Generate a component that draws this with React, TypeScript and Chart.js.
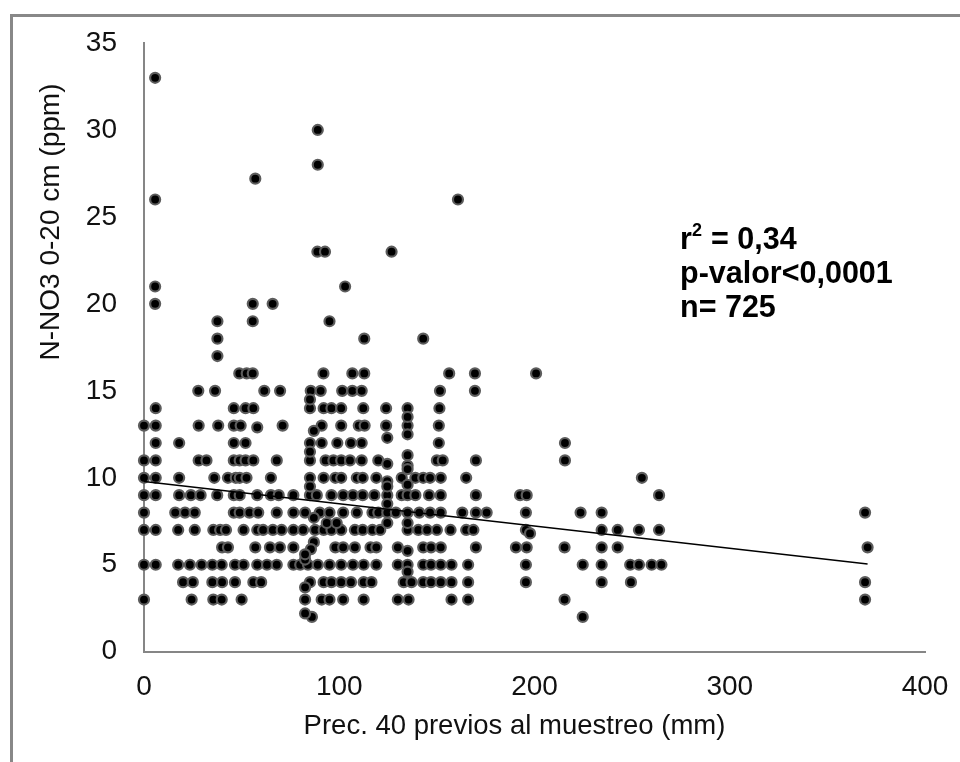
import React, { useEffect, useRef } from "react";
import { Chart, registerables } from "chart.js";

Chart.register(...registerables);

// x positions (mm) of the points sitting on each integer N-NO3 row (ppm)
const row16 = [48.8, 52.6, 55.7, 91.9, 106.7, 112.8, 156.3, 169.5, 200.8];
const row15 = [27.8, 36.4, 61.6, 69.7, 85.4, 90.5, 101.5, 106.7, 111.5, 151.6, 169.5];
const row14 = [6, 46, 52, 56, 85, 92, 96, 101, 112.3, 124, 135, 151.3];
const row13 = [0, 6, 28, 38, 46, 49.5, 71, 91, 101, 110, 113, 124, 135, 151];
const row12 = [6, 18, 46, 52, 85, 91, 99, 106, 111.5, 151, 215.6];
const row11 = [0, 6, 28, 32, 46, 49, 52, 56, 68, 85, 93, 97, 101, 105.5, 111.5, 120, 150, 153, 170, 215.6];
const row10 = [0, 6, 18, 36, 43, 47, 49, 52.5, 65, 85, 92, 98, 101, 109, 112, 119, 132, 139, 143, 146.5, 152, 165, 255];
const row9 = [0, 6, 18, 24, 29, 37.5, 46, 49, 58, 65, 69, 76.5, 85, 88.5, 96, 102, 107, 112, 118, 124.6, 132, 135, 139, 146, 152, 170, 192.6, 196, 263.8];
const row8 = [0, 16, 21, 26, 46, 49, 54, 58.5, 68, 76.5, 82.5, 90, 95, 102, 109, 117, 120, 124.6, 129, 135, 141, 146.5, 152, 163, 170, 175.5, 195.6, 223.6, 234.4, 369.3];
const row7 = [0, 6, 17.5, 26, 35.5, 39, 42, 51, 58, 61, 66, 70.5, 76.5, 81.5, 87.6, 92, 96, 101, 108, 112, 117, 121, 135, 140.5, 145, 150, 157, 165, 168.7, 195.6, 234.4, 242.6, 253.5, 263.8];
const row6 = [40, 43, 57, 64.5, 69.6, 76.5, 98, 102, 108, 116, 119, 130, 143, 147, 152, 170, 190.5, 196, 215.4, 234.4, 242.6, 370.6];
const row5 = [0, 6, 17.5, 23.5, 29.5, 35, 39.8, 46.6, 51, 58, 63, 68, 76.5, 80, 84, 89, 95, 101, 107, 112.5, 119, 130, 135, 143, 147, 152, 157.5, 166, 195.6, 224.7, 234.4, 249, 253.5, 260, 265];
const row4 = [20, 25, 35, 40, 46.6, 56, 60, 85, 92, 96, 101, 106, 112.5, 116.5, 133, 137, 143, 147, 152, 157.5, 166, 195.6, 234.4, 249.4, 369.3];
const row3 = [0, 24.4, 35.5, 39.8, 50, 82.5, 91, 95, 102, 112.5, 130, 135.5, 157.5, 166, 215.4, 369.3];
const row2 = [86, 224.7];

const rowValues = [16, 15, 14, 13, 12, 11, 10, 9, 8, 7, 6, 5, 4, 3, 2];
const rows = [row16, row15, row14, row13, row12, row11, row10, row9, row8, row7, row6, row5, row4, row3, row2];

// points off the integer rows
const looseX = [5.7, 5.7, 5.7, 5.7, 57, 89, 89, 88.8, 92.7, 126.8, 160.8, 103, 55.7, 65.9, 37.6, 55.7, 95, 37.6, 112.8, 143, 37.6, 85, 58, 87, 135, 135, 124.6, 124.6, 135, 135, 85, 85, 124.6, 124.6, 135, 124.6, 135, 87, 124.6, 135, 93.6, 98.7, 197.7, 87, 85.5, 135, 82.5, 82.5, 135, 82.5, 82.5];
const looseY = [33, 26, 21, 20, 27.2, 30, 28, 23, 23, 23, 26, 21, 20, 20, 19, 19, 19, 18, 18, 18, 17, 14.5, 12.9, 12.7, 13.5, 12.5, 12.3, 10.8, 11.3, 10.7, 11.5, 9.5, 9.8, 9.5, 10.5, 8.5, 9.6, 7.7, 7.4, 7.4, 7.4, 7.4, 6.8, 6.3, 5.9, 5.8, 5.3, 5.6, 4.6, 3.7, 2.2];

// fitted line
const fitX = [0, 370.6];
const fitY = [9.78, 5.04];

const xTicks = [0, 100, 200, 300, 400];
const yTicks = [0, 5, 10, 15, 20, 25, 30, 35];

const xTitle = "Prec. 40 previos al muestreo (mm)";
const yTitle = "N-NO3 0-20 cm (ppm)";
const statLines = ["= 0,34", "p-valor<0,0001", "n= 725"];

const FONT = '"Liberation Sans", Arial, sans-serif';

const textPlugin = {
  id: "texts",
  afterDraw(chart: any) {
    const c = chart.ctx;
    c.save();
    c.fillStyle = "#000";
    c.textBaseline = "alphabetic";
    c.textAlign = "left";
    c.font = `bold 30.5px ${FONT}`;
    c.fillText("r", 680, 249);
    c.fillText(statLines[0], 711, 249);
    c.fillText(statLines[1], 680, 283);
    c.fillText(statLines[2], 680, 317);
    c.font = `bold 18px ${FONT}`;
    c.fillText("2", 692, 236);

    c.fillStyle = "#111";
    c.textAlign = "center";
    c.textBaseline = "middle";
    c.font = `27.5px ${FONT}`;
    c.fillText(xTitle, 514.5, 726);
    c.translate(51, 222);
    c.rotate(-Math.PI / 2);
    c.font = `28px ${FONT}`;
    c.fillText(yTitle, 0, 0);
    c.restore();
  },
};

export default function App() {
  const ref = useRef<HTMLCanvasElement | null>(null);
  useEffect(() => {
    if (!ref.current) return;
    const points: { x: number; y: number }[] = [];
    rows.forEach((r, i) => r.forEach((x) => points.push({ x, y: rowValues[i] })));
    looseX.forEach((x, i) => points.push({ x, y: looseY[i] }));
    const chart = new Chart(ref.current, {
      type: "scatter",
      data: {
        datasets: [
          {
            label: "Ajuste",
            data: fitX.map((x, i) => ({ x, y: fitY[i] })),
            showLine: true,
            borderColor: "#000",
            borderWidth: 1.5,
            pointRadius: 0,
            clip: false,
          },
          {
            label: "N-NO3",
            data: points,
            backgroundColor: "#000",
            borderColor: "#5c5c5c",
            borderWidth: 2.2,
            pointRadius: 5,
            clip: false,
          },
        ],
      },
      options: {
        animation: false,
        responsive: false,
        devicePixelRatio: 1,
        layout: { padding: { left: 0, top: 43, right: 35, bottom: 60.3 } },
        plugins: { legend: { display: false }, tooltip: { enabled: false } },
        scales: {
          x: {
            type: "linear",
            min: 0,
            max: 400,
            grid: { display: false },
            border: { display: true, color: "#868686", width: 2 },
            afterFit: (s: any) => { s.height = 50; s.paddingRight = 0; s.paddingLeft = 0; },
            afterBuildTicks: (s: any) => { s.ticks = xTicks.map((value) => ({ value })); },
            ticks: { color: "#111", padding: 11, maxRotation: 0, autoSkip: false, font: { family: FONT, size: 28 } },
          },
          y: {
            type: "linear",
            min: 0,
            max: 35,
            grid: { display: false },
            border: { display: true, color: "#868686", width: 2 },
            afterFit: (s: any) => { s.width = 144; s.paddingTop = 0; s.paddingBottom = 0; },
            afterBuildTicks: (s: any) => { s.ticks = yTicks.map((value) => ({ value })); },
            ticks: { color: "#111", padding: 19, autoSkip: false, font: { family: FONT, size: 28 } },
          },
        },
      },
      plugins: [textPlugin],
    } as any);
    return () => chart.destroy();
  }, []);
  return (
    <div style={{ position: "absolute", left: 0, top: 0, width: 960, height: 762, overflow: "hidden", background: "#fff" }}>
      <canvas ref={ref} width={960} height={762} style={{ display: "block", position: "absolute", left: 0, top: 0 }} />
      <div style={{ position: "absolute", left: 10, top: 14, width: 1000, height: 800, border: "3px solid #888", boxSizing: "border-box" }} />
    </div>
  );
}
